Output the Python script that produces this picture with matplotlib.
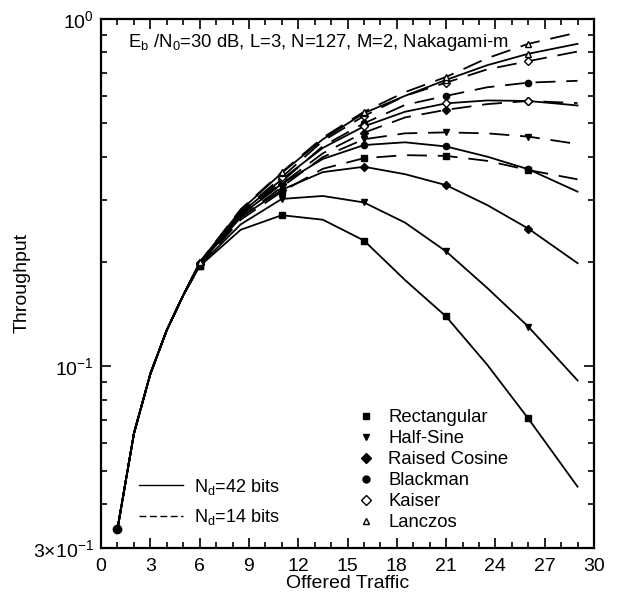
"""
Throughput vs offered traffic for several chip-shaping windows
(Eb/N0 = 30 dB, L=3, N=127, M=2, Nakagami-m), Nd = 42 and 14 bits.
"""
import matplotlib
matplotlib.use("Agg")
import matplotlib.pyplot as plt
from matplotlib.lines import Line2D
from matplotlib.ticker import FixedLocator, FixedFormatter, MultipleLocator, LogLocator, NullFormatter

plt.rcParams["font.family"] = ["Liberation Sans", "DejaVu Sans"]
plt.rcParams["mathtext.fontset"] = "custom"
plt.rcParams["mathtext.rm"] = "Liberation Sans"
plt.rcParams["mathtext.it"] = "Liberation Sans:italic"

# ── data ──────────────────────────────────────────────────────────────────────
offered = [1, 2, 3, 4, 5, 6, 8.5, 11, 13.5, 16, 18.5, 21, 23.5, 26, 29]
mark_idx = [5, 7, 9, 11, 13]          # G = 6, 11, 16, 21, 26

# Nd = 42 bits (solid)
rect_42     = [0.034, 0.064, 0.095, 0.127, 0.160, 0.194, 0.247, 0.272, 0.264, 0.230, 0.177, 0.139, 0.101, 0.0707, 0.045]
halfsine_42 = [0.034, 0.064, 0.095, 0.127, 0.160, 0.195, 0.256, 0.303, 0.309, 0.296, 0.259, 0.214, 0.168, 0.130, 0.091]
raisedc_42  = [0.034, 0.064, 0.095, 0.127, 0.160, 0.197, 0.268, 0.322, 0.362, 0.375, 0.357, 0.332, 0.291, 0.249, 0.198]
blackman_42 = [0.034, 0.064, 0.095, 0.127, 0.160, 0.197, 0.272, 0.335, 0.395, 0.433, 0.441, 0.429, 0.401, 0.369, 0.318]
kaiser_42   = [0.034, 0.064, 0.095, 0.127, 0.160, 0.198, 0.276, 0.345, 0.425, 0.490, 0.540, 0.571, 0.582, 0.580, 0.563]
lanczos_42  = [0.034, 0.064, 0.095, 0.127, 0.160, 0.199, 0.281, 0.360, 0.450, 0.535, 0.600, 0.667, 0.735, 0.793, 0.847]

# Nd = 14 bits (dashed)
rect_14     = [0.034, 0.064, 0.095, 0.127, 0.160, 0.194, 0.264, 0.318, 0.370, 0.397, 0.405, 0.403, 0.390, 0.367, 0.345]
halfsine_14 = [0.034, 0.064, 0.095, 0.127, 0.160, 0.195, 0.268, 0.328, 0.400, 0.450, 0.468, 0.471, 0.468, 0.458, 0.436]
raisedc_14  = [0.034, 0.064, 0.095, 0.127, 0.160, 0.197, 0.272, 0.335, 0.410, 0.470, 0.520, 0.547, 0.568, 0.580, 0.572]
blackman_14 = [0.034, 0.064, 0.095, 0.127, 0.160, 0.197, 0.274, 0.340, 0.430, 0.500, 0.565, 0.600, 0.635, 0.655, 0.663]
kaiser_14   = [0.034, 0.064, 0.095, 0.127, 0.160, 0.198, 0.278, 0.350, 0.445, 0.525, 0.600, 0.655, 0.715, 0.755, 0.805]
lanczos_14  = [0.034, 0.064, 0.095, 0.127, 0.160, 0.199, 0.283, 0.362, 0.455, 0.540, 0.615, 0.680, 0.770, 0.847, 0.913]

window_names = ["Rectangular", "Half-Sine", "Raised Cosine", "Blackman", "Kaiser", "Lanczos"]
curves_42 = [rect_42, halfsine_42, raisedc_42, blackman_42, kaiser_42, lanczos_42]
curves_14 = [rect_14, halfsine_14, raisedc_14, blackman_14, kaiser_14, lanczos_14]

x_ticks = [0, 3, 6, 9, 12, 15, 18, 21, 24, 27, 30]
y_ticks = [0.03, 0.1, 1.0]
y_labels = [r"3$\times$10$^{-1}$", r"10$^{-1}$", r"10$^{0}$"]

# ── styles ────────────────────────────────────────────────────────────────────
MARKERS = {
    "Rectangular":   dict(marker="s", mfc="black"),
    "Half-Sine":     dict(marker="v", mfc="black"),
    "Raised Cosine": dict(marker="D", mfc="black"),
    "Blackman":      dict(marker="o", mfc="black"),
    "Kaiser":        dict(marker="D", mfc="white"),
    "Lanczos":       dict(marker="^", mfc="white"),
}
DASH = (0, (11, 6))


def main() -> None:
    fig = plt.figure(figsize=(6.2, 6.06), dpi=100)
    ax = fig.add_axes([0.163, 0.096, 0.795, 0.873])

    for name, y42, y14 in zip(window_names, curves_42, curves_14):
        m = MARKERS[name]
        ax.plot(offered, y42, color="black", lw=1.3, ls="-",
                marker=m["marker"], mfc=m["mfc"], mec="black", ms=4.5,
                markevery=mark_idx)
        ax.plot(offered, y14, color="black", lw=1.3, ls=DASH,
                marker=m["marker"], mfc=m["mfc"], mec="black", ms=4.5,
                markevery=mark_idx)

    # common starting point at G = 1
    ax.plot(offered[0], rect_42[0], "o", color="black", ms=6)

    ax.set_yscale("log")
    ax.set_xlim(0, 30)
    ax.set_ylim(0.03, 1.0)

    ax.xaxis.set_major_locator(FixedLocator(x_ticks))
    ax.xaxis.set_minor_locator(MultipleLocator(1))
    ax.yaxis.set_major_locator(FixedLocator(y_ticks))
    ax.yaxis.set_major_formatter(FixedFormatter(y_labels))
    ax.yaxis.set_minor_locator(LogLocator(base=10, subs=range(2, 10)))
    ax.yaxis.set_minor_formatter(NullFormatter())

    ax.tick_params(which="both", direction="in", top=True, right=True, width=1.2)
    ax.tick_params(which="major", length=7, labelsize=14, pad=5)
    ax.tick_params(axis="x", which="major", pad=7)
    ax.tick_params(which="minor", length=4)
    for sp in ax.spines.values():
        sp.set_linewidth(1.6)

    ax.set_xlabel("Offered Traffic", fontsize=14, labelpad=0)
    ax.set_ylabel("Throughput", fontsize=14, labelpad=2)

    ax.text(0.055, 0.955, r"E$_{\rm b}$ /N$_{0}$=30 dB, L=3, N=127, M=2, Nakagami-m",
            transform=ax.transAxes, fontsize=13.3, va="center", ha="left")

    # window legend (markers only)
    win_handles = [Line2D([], [], ls="none", color="black", marker=MARKERS[n]["marker"],
                          mfc=MARKERS[n]["mfc"], mec="black", ms=5) for n in window_names]
    leg1 = ax.legend(win_handles, window_names, loc="lower left",
                     bbox_to_anchor=(0.50, 0.01), frameon=False, fontsize=13.3,
                     handlelength=0.8, handletextpad=0.8, labelspacing=0.22,
                     borderaxespad=0.2)
    ax.add_artist(leg1)

    # Nd legend (line styles)
    nd_handles = [Line2D([], [], color="black", lw=1.0, ls="-"),
                  Line2D([], [], color="black", lw=1.0, ls=(0, (5, 2.5)))]
    ax.legend(nd_handles, [r"N$_{\rm d}$=42 bits", r"N$_{\rm d}$=14 bits"],
              loc="lower left", bbox_to_anchor=(0.045, 0.008), frameon=False,
              fontsize=13, handlelength=2.4, handletextpad=0.6, labelspacing=0.6)

    fig.savefig("out.png", dpi=100)


if __name__ == "__main__":
    main()
